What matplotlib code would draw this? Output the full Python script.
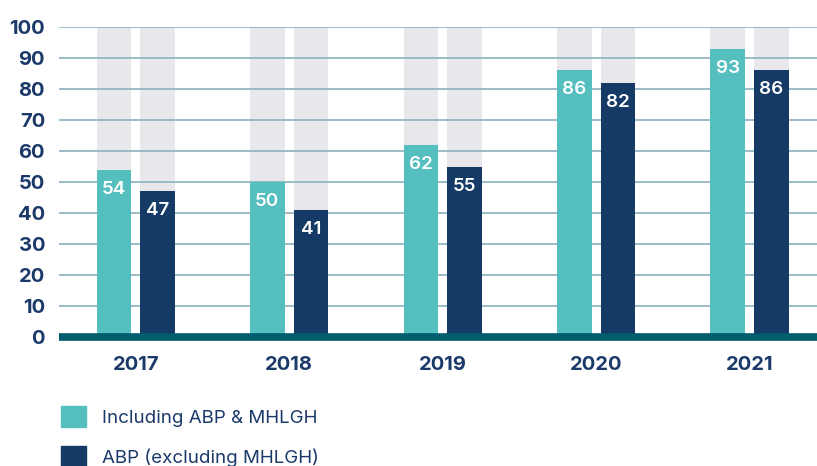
import numpy as np
import matplotlib
matplotlib.use('Agg')
import matplotlib.pyplot as plt
import matplotlib.patches as mpatches

years     = ['2017', '2018', '2019', '2020', '2021']
incl_abp  = [54, 50, 62, 86, 93]
abp_only  = [47, 41, 55, 82, 86]
labels    = ['Including ABP & MHLGH', 'ABP (excluding MHLGH)']

TEAL  = '#55bfbf'
NAVY  = '#163a66'
GREY  = '#e8e8ec'
GRID  = '#8ab2bd'
BASE  = '#005d6e'
TXT   = '#1b3a6a'

plt.rcParams['font.family'] = ['Inter', 'DejaVu Sans']

fig = plt.figure(figsize=(8.17, 4.66), dpi=100)
ax = fig.add_axes([59/817, 1 - 337/466, 1 - 59/817, 310/466])

x = np.arange(len(years))
w = 0.225
off = 0.142

# grey background bars up to 100
ax.bar(x - off, [100]*len(x), w, color=GREY, zorder=1)
ax.bar(x + off, [100]*len(x), w, color=GREY, zorder=1)
b1 = ax.bar(x - off, incl_abp, w, color=TEAL, zorder=3)
b2 = ax.bar(x + off, abp_only, w, color=NAVY, zorder=3)

for bars, vals in ((b1, incl_abp), (b2, abp_only)):
    for bar, v in zip(bars, vals):
        ax.text(bar.get_x() + bar.get_width()/2, v - 6.3, str(v),
                ha='center', va='center', color='white', fontsize=13.5,
                fontweight='semibold', zorder=4)

ax.set_ylim(0, 100)
ax.set_xlim(-0.5, 4.44)
ax.set_yticks(range(0, 101, 10))
ax.yaxis.grid(True, color=GRID, lw=1.2, zorder=2)
ax.set_axisbelow(False)
ax.axhline(0, color=BASE, lw=5.5, zorder=5, clip_on=False, solid_capstyle='butt')

ax.set_xticks(x)
ax.set_xticklabels(years)
ax.tick_params(axis='both', length=0, labelsize=14.5, labelcolor=TXT)
ax.tick_params(axis='x', pad=14)
ax.tick_params(axis='y', pad=10)
for t in ax.get_xticklabels() + ax.get_yticklabels():
    t.set_fontweight('bold')
for s in ax.spines.values():
    s.set_visible(False)

handles = [mpatches.Patch(color=TEAL, label=labels[0]),
           mpatches.Patch(color=NAVY, label=labels[1])]
leg = fig.legend(handles=handles, loc='upper left',
                 bbox_to_anchor=(44/817, 1 - 389/466), frameon=False,
                 fontsize=13.5, handlelength=1.33, handleheight=1.33,
                 handletextpad=0.85, labelspacing=1.05)
for t in leg.get_texts():
    t.set_color(TXT)

fig.savefig('out.png', dpi=100)
